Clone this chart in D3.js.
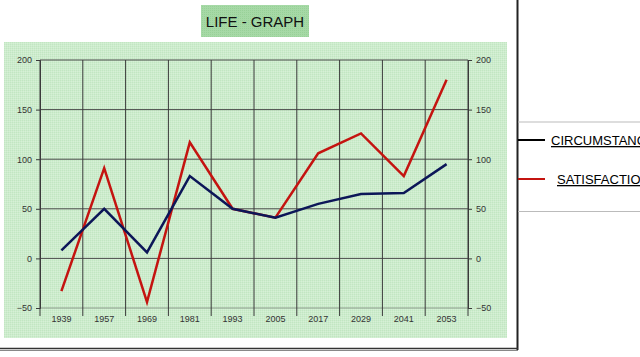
<!DOCTYPE html>
<html><head><meta charset="utf-8">
<script src="https://cdnjs.cloudflare.com/ajax/libs/d3/7.8.5/d3.min.js"></script>
<style>html,body{margin:0;padding:0;background:#fff;}svg{display:block;}</style>
</head><body>
<script>
const years = ["1939","1957","1969","1981","1993","2005","2017","2029","2041","2053"];
const circumstances = [8, 50, 6, 83, 50, 41, 55, 65, 66, 95];
const satisfaction = [-33, 91, -44, 117, 50, 41, 106, 126, 83, 180];
const yTicks = [-50, 0, 50, 100, 150, 200];
const seriesNames = ["CIRCUMSTANCES", "SATISFACTION"];

const W = 640, H = 357;
const svg = d3.select("body").append("svg").attr("width", W).attr("height", H);
const font = "'Liberation Sans', Arial, sans-serif";

// texture pattern
const defs = svg.append("defs");
const pat = defs.append("pattern").attr("id","tex").attr("width",2).attr("height",2).attr("patternUnits","userSpaceOnUse");
pat.append("rect").attr("width",2).attr("height",2).attr("fill","#cdeccd");
pat.append("rect").attr("width",1).attr("height",1).attr("fill","#c2e6c2");
pat.append("rect").attr("x",1).attr("y",1).attr("width",1).attr("height",1).attr("fill","#d6f0d6");
const pat2 = defs.append("pattern").attr("id","tex2").attr("width",2).attr("height",2).attr("patternUnits","userSpaceOnUse");
pat2.append("rect").attr("width",2).attr("height",2).attr("fill","#a6d9a6");
pat2.append("rect").attr("width",1).attr("height",1).attr("fill","#98d198");

// title
svg.append("rect").attr("x",201).attr("y",5).attr("width",108).attr("height",32).attr("fill","url(#tex2)");
svg.append("text").attr("x",255).attr("y",27).attr("text-anchor","middle")
  .attr("font-family",font).attr("font-size",15).attr("fill","#111").text("LIFE - GRAPH");

// panel
svg.append("rect").attr("x",4).attr("y",42).attr("width",503).attr("height",296).attr("fill","url(#tex)");

const x = d3.scaleBand().domain(years).range([40, 468]);
const y = d3.scaleLinear().domain([-50, 200]).range([308, 60]);

// horizontal gridlines
svg.append("g").selectAll("line").data(yTicks).join("line")
  .attr("x1",40).attr("x2",468).attr("y1",d=>y(d)).attr("y2",d=>y(d))
  .attr("stroke", d=> d===-50 ? "#8a9a8a" : "#4a4a4a").attr("stroke-width",1);

// vertical gridlines at band boundaries
const bounds = years.map(d=>x(d)).concat([x(years[years.length-1]) + x.bandwidth()]);
svg.append("g").selectAll("line").data(bounds).join("line")
  .attr("x1",d=>d).attr("x2",d=>d).attr("y1",y(200)).attr("y2",y(-50)+8)
  .attr("stroke","#3a3a3a").attr("stroke-width",1);

// y ticks
const yl = d3.axisLeft(y).tickValues(yTicks).tickSize(4).tickPadding(4);
const yr = d3.axisRight(y).tickValues(yTicks).tickSize(4).tickPadding(4);
function styleAxis(g){
  g.select(".domain").attr("stroke","#3a3a3a");
  g.selectAll(".tick line").attr("stroke","#3a3a3a");
  g.selectAll("text").attr("font-family",font).attr("font-size",9).attr("fill","#333");
}
svg.append("g").attr("transform","translate(40,0)").call(yl).call(styleAxis);
svg.append("g").attr("transform","translate(468,0)").call(yr).call(styleAxis);

// x labels
svg.append("g").selectAll("text").data(years).join("text")
  .attr("x",d=>x(d)+x.bandwidth()/2).attr("y",322).attr("text-anchor","middle")
  .attr("font-family",font).attr("font-size",9).attr("fill","#333").text(d=>d);

// lines
const line = d3.line().x((d,i)=>x(years[i])+x.bandwidth()/2).y(d=>y(d));
svg.append("path").datum(satisfaction).attr("d",line).attr("fill","none")
  .attr("stroke","#c41410").attr("stroke-width",2.5).attr("stroke-linejoin","miter");
svg.append("path").datum(circumstances).attr("d",line).attr("fill","none")
  .attr("stroke","#0c1658").attr("stroke-width",2.5).attr("stroke-linejoin","miter");

// frame lines
svg.append("line").attr("x1",517.5).attr("x2",517.5).attr("y1",0).attr("y2",350).attr("stroke","#222").attr("stroke-width",2);
svg.append("line").attr("x1",0).attr("x2",518).attr("y1",348.5).attr("y2",348.5).attr("stroke","#333").attr("stroke-width",1.5);
svg.append("line").attr("x1",0).attr("x2",518).attr("y1",350.5).attr("y2",350.5).attr("stroke","#888").attr("stroke-width",1);

// legend
svg.append("line").attr("x1",518).attr("x2",640).attr("y1",122).attr("y2",122).attr("stroke","#bbb");
svg.append("line").attr("x1",518).attr("x2",640).attr("y1",211.5).attr("y2",211.5).attr("stroke","#bbb");
const legColors = ["#000", "#c41410"];
const legY = [140, 179];
const legX = [551, 557];
seriesNames.forEach((n,i)=>{
  svg.append("line").attr("x1",518).attr("x2",545).attr("y1",legY[i]).attr("y2",legY[i])
    .attr("stroke",legColors[i]).attr("stroke-width",2);
  svg.append("text").attr("x",legX[i]).attr("y",legY[i]+5).attr("font-family",font)
    .attr("font-size",13).attr("fill","#000").attr("text-decoration","underline").text(n);
});
</script>
</body></html>
